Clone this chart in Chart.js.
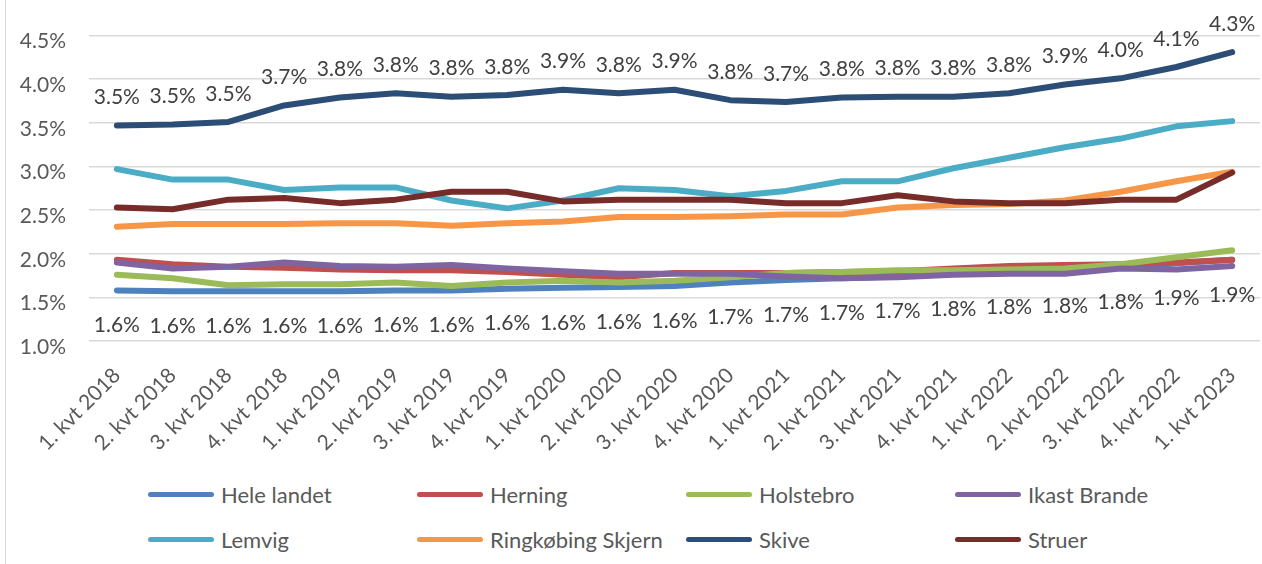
<!DOCTYPE html>
<html>
<head>
<meta charset="utf-8">
<script src="https://cdn.jsdelivr.net/npm/chart.js@4.4.0/dist/chart.umd.min.js"></script>
<style>
  html, body { margin: 0; padding: 0; background: #fff; overflow: hidden; }
  #wrap { position: relative; width: 1264px; height: 564px; }
  #kant { position: absolute; left: 5px; top: 0; width: 1px; height: 564px; background: #d9d9d9; }
  #graf { position: absolute; left: 0; top: 0; }
  #legende { position: absolute; left: 148px; top: 480px; display: grid;
    grid-template-columns: repeat(4, 269px); grid-auto-rows: 45px;
    font-family: Lato, sans-serif; font-size: 22px; color: #595959; }
  .punkt { display: flex; align-items: center; height: 28px; }
  .streg { width: 66px; height: 5px; border-radius: 3px; margin-right: 7px; }
</style>
</head>
<body>
<div id="wrap">
  <div id="kant"></div>
  <canvas id="graf" width="1264" height="470"></canvas>
  <div id="legende"></div>
</div>
<script>
const kvartaler = [
  "1. kvt 2018", "2. kvt 2018", "3. kvt 2018", "4. kvt 2018",
  "1. kvt 2019", "2. kvt 2019", "3. kvt 2019", "4. kvt 2019",
  "1. kvt 2020", "2. kvt 2020", "3. kvt 2020", "4. kvt 2020",
  "1. kvt 2021", "2. kvt 2021", "3. kvt 2021", "4. kvt 2021",
  "1. kvt 2022", "2. kvt 2022", "3. kvt 2022", "4. kvt 2022",
  "1. kvt 2023"
]

// værdier i procent
const heleLandet = [1.58, 1.57, 1.57, 1.57, 1.57, 1.58, 1.58, 1.60, 1.61, 1.62, 1.63, 1.67, 1.70, 1.72, 1.74, 1.77, 1.79, 1.80, 1.84, 1.89, 1.93]
const herning = [1.93, 1.88, 1.85, 1.84, 1.82, 1.81, 1.81, 1.79, 1.76, 1.73, 1.78, 1.78, 1.78, 1.79, 1.80, 1.83, 1.86, 1.87, 1.88, 1.90, 1.93]
const holstebro = [1.76, 1.72, 1.64, 1.65, 1.65, 1.67, 1.63, 1.67, 1.69, 1.67, 1.69, 1.73, 1.78, 1.79, 1.81, 1.81, 1.82, 1.83, 1.88, 1.96, 2.04]
const ikastBrande = [1.90, 1.83, 1.85, 1.90, 1.86, 1.85, 1.87, 1.83, 1.80, 1.77, 1.77, 1.77, 1.74, 1.72, 1.73, 1.76, 1.77, 1.77, 1.83, 1.82, 1.86]
const lemvig = [2.97, 2.85, 2.85, 2.73, 2.76, 2.76, 2.61, 2.52, 2.61, 2.75, 2.73, 2.66, 2.72, 2.83, 2.83, 2.98, 3.10, 3.22, 3.32, 3.46, 3.52]
const ringkobing = [2.31, 2.34, 2.34, 2.34, 2.35, 2.35, 2.32, 2.35, 2.37, 2.42, 2.42, 2.43, 2.45, 2.45, 2.53, 2.56, 2.57, 2.61, 2.71, 2.83, 2.94]
const skive = [3.47, 3.48, 3.51, 3.70, 3.79, 3.84, 3.80, 3.82, 3.88, 3.84, 3.88, 3.76, 3.74, 3.79, 3.80, 3.80, 3.84, 3.94, 4.01, 4.14, 4.31]
const struer = [2.53, 2.51, 2.62, 2.64, 2.58, 2.62, 2.71, 2.71, 2.60, 2.62, 2.62, 2.62, 2.58, 2.58, 2.67, 2.60, 2.58, 2.58, 2.62, 2.62, 2.93]

const yTicks = [1.0, 1.5, 2.0, 2.5, 3.0, 3.5, 4.0, 4.5]

const serier = [
  { navn: "Hele landet", data: heleLandet, farve: "#4f81bd" },
  { navn: "Herning", data: herning, farve: "#c0504d" },
  { navn: "Holstebro", data: holstebro, farve: "#9bbb59" },
  { navn: "Ikast Brande", data: ikastBrande, farve: "#8064a2" },
  { navn: "Lemvig", data: lemvig, farve: "#4bacc6" },
  { navn: "Ringkøbing Skjern", data: ringkobing, farve: "#f79646" },
  { navn: "Skive", data: skive, farve: "#2c4d75" },
  { navn: "Struer", data: struer, farve: "#772c2a" }
]

// datalabels for Skive (over) og Hele landet (under)
const etiketter = {
  id: "etiketter",
  afterDatasetsDraw(chart) {
    const ctx = chart.ctx
    ctx.save()
    ctx.font = "21px Lato"
    ctx.fillStyle = "#404040"
    ctx.textAlign = "center"
    ctx.textBaseline = "middle"
    const regler = [[6, -28], [0, 35]]
    regler.forEach(([idx, forskyd]) => {
      const meta = chart.getDatasetMeta(idx)
      meta.data.forEach((p, i) => {
        const v = chart.data.datasets[idx].data[i]
        ctx.fillText(v.toFixed(1) + "%", p.x, p.y + forskyd)
      })
    })
    ctx.restore()
  }
}

Chart.defaults.font.family = "Lato"
Chart.defaults.font.size = 21
Chart.defaults.color = "#595959"

const graf = new Chart(document.getElementById("graf"), {
  type: "line",
  data: {
    labels: kvartaler,
    datasets: serier.map((s, i) => ({
      label: s.navn,
      data: s.data,
      borderColor: s.farve,
      backgroundColor: s.farve,
      borderWidth: 6,
      borderCapStyle: "round",
      borderJoinStyle: "round",
      pointRadius: 0,
      tension: 0,
      order: serier.length - i//senere serier tegnes øverst
    }))
  },
  options: {
    responsive: false,
    animation: false,
    layout: { padding: { top: 33, left: 9, right: 0, bottom: 9 } },
    plugins: {
      legend: { display: false },
      tooltip: { enabled: false }
    },
    scales: {
      x: {
        offset: true,
        grid: { display: false },
        border: { display: false },
        ticks: { autoSkip: false, minRotation: 45, maxRotation: 45, padding: 14 },
        afterFit: (scale) => { scale.height = 120 }
      },
      y: {
        min: 1.0,
        max: 4.5,
        afterBuildTicks: (scale) => { scale.ticks = yTicks.map(v => ({ value: v })) },
        grid: { color: "#d9d9d9", lineWidth: 1.5, drawTicks: false },
        border: { display: false },
        ticks: {
          padding: 23,
          labelOffset: 6,
          callback: (v) => v.toFixed(1) + "%"
        },
        afterFit: (scale) => { scale.width = 80 }
      }
    }
  },
  plugins: [etiketter]
})

// legende i et fast gitter som i originalen
const legende = document.getElementById("legende")
graf.data.datasets.forEach((ds) => {
  const punkt = document.createElement("div")
  punkt.className = "punkt"
  const streg = document.createElement("span")
  streg.className = "streg"
  streg.style.background = ds.borderColor
  const tekst = document.createElement("span")
  tekst.textContent = ds.label
  punkt.appendChild(streg)
  punkt.appendChild(tekst)
  legende.appendChild(punkt)
})
</script>
</body>
</html>
